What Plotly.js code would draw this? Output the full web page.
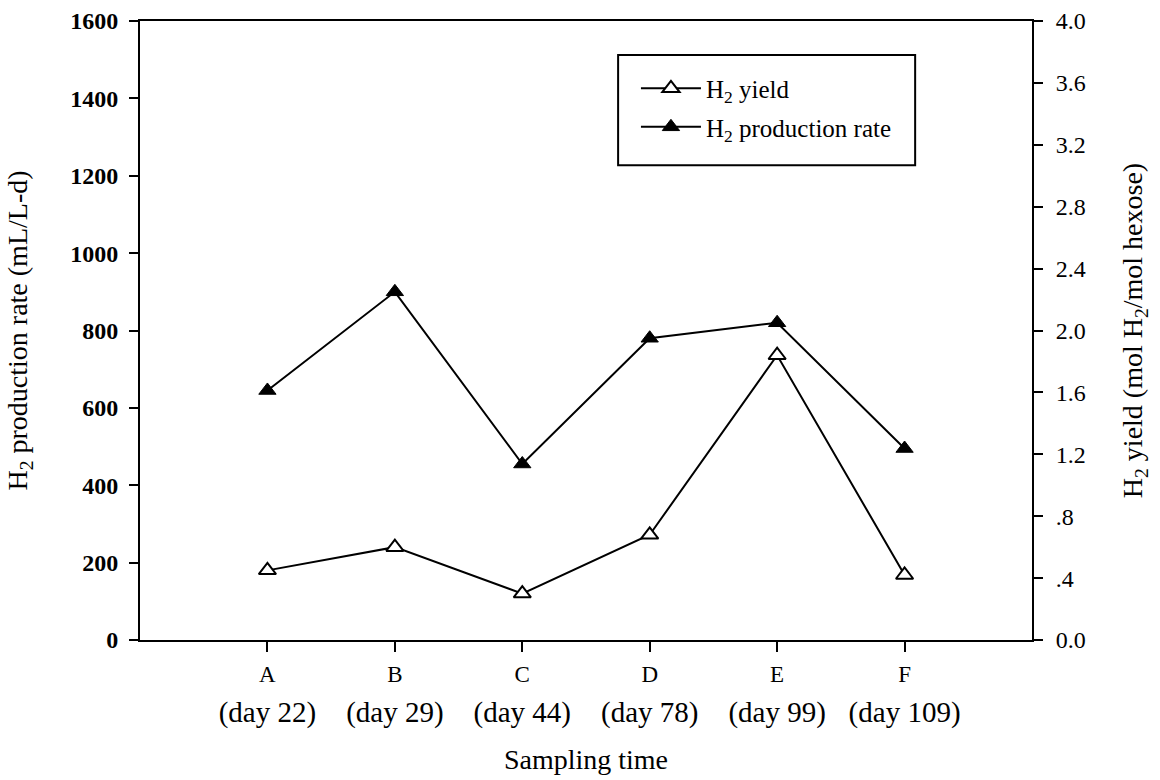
<!DOCTYPE html>
<html>
<head>
<meta charset="utf-8">
<script src="https://cdn.plot.ly/plotly-3.0.1.min.js"></script>
<style>html,body{margin:0;padding:0;background:#fff;}#chart{width:1160px;height:780px;}</style>
</head>
<body>
<div id="chart"></div>
<script>
// ---- data ----
const sampleLetters = ['A', 'B', 'C', 'D', 'E', 'F'];
const sampleDays = ['(day 22)', '(day 29)', '(day 44)', '(day 78)', '(day 99)', '(day 109)'];
const productionRate = [645, 900, 455, 780, 820, 495];   // mL/L-d, left axis
const h2Yield = [0.45, 0.60, 0.30, 0.68, 1.84, 0.42];     // mol H2/mol hexose, right axis
const rightTickVals = [0, 0.4, 0.8, 1.2, 1.6, 2.0, 2.4, 2.8, 3.2, 3.6, 4.0];
const rightTickText = ['0.0', '.4', '.8', '1.2', '1.6', '2.0', '2.4', '2.8', '3.2', '3.6', '4.0'];

const FONT = 'Liberation Serif, Times New Roman, serif';

const traces = [
  {
    x: sampleDays, y: h2Yield, xaxis: 'x2', yaxis: 'y2',
    type: 'scatter', mode: 'lines+markers',
    name: 'H<sub>2</sub> yield', legendgroup: 'g1',
    line: {color: '#000', width: 2},
    marker: {symbol: 'triangle-up', size: 15, color: '#fff', line: {color: '#000', width: 2}}
  },
  {
    x: sampleLetters, y: productionRate, xaxis: 'x', yaxis: 'y',
    type: 'scatter', mode: 'lines+markers',
    name: 'H<sub>2</sub> production rate', legendgroup: 'g2',
    line: {color: '#000', width: 2},
    marker: {symbol: 'triangle-up', size: 15, color: '#000', line: {color: '#000', width: 1}}
  }
];

const layout = {
  width: 1160, height: 780,
  paper_bgcolor: '#fff', plot_bgcolor: '#fff',
  margin: {l: 140, r: 128, t: 21, b: 140},
  font: {family: FONT, color: '#000'},
  showlegend: true,
  legend: {
    x: 0.556, y: 0.928, xanchor: 'left', yanchor: 'top',
    bgcolor: 'rgba(0,0,0,0)', borderwidth: 0,
    font: {family: FONT, size: 25, color: '#000'},
    tracegroupgap: 3, traceorder: 'grouped', itemwidth: 60
  },
  xaxis: {
    type: 'category', range: [-1, 6],
    showline: true, linecolor: '#000', linewidth: 2, mirror: true,
    ticks: 'outside', ticklen: 10, tickwidth: 2, tickcolor: '#000',
    tickfont: {family: FONT, size: 23, color: '#000'},
    ticklabelstandoff: 2,
    showgrid: false, zeroline: false, automargin: false,
    title: {text: 'Sampling time', font: {family: FONT, size: 28, color: '#000'}, standoff: 64}
  },
  xaxis2: {
    type: 'category', range: [-1, 6],
    overlaying: 'x', anchor: 'y', side: 'bottom',
    showline: false, ticks: '', showgrid: false, zeroline: false,
    tickfont: {family: FONT, size: 29, color: '#000'},
    ticklabelstandoff: 52, automargin: false
  },
  yaxis: {
    range: [0, 1600], dtick: 200,
    showline: true, linecolor: '#000', linewidth: 2, mirror: true,
    ticks: 'outside', ticklen: 9, tickwidth: 2, tickcolor: '#000',
    tickfont: {family: FONT, size: 24, color: '#000', weight: 'bold'},
    ticklabelstandoff: 6,
    showgrid: false, zeroline: false, automargin: false,
    title: {text: 'H<sub>2</sub> production rate (mL/L-d)', font: {family: FONT, size: 28, color: '#000'}, standoff: 34}
  },
  yaxis2: {
    range: [0, 4], overlaying: 'y', side: 'right', anchor: 'x',
    tickvals: rightTickVals, ticktext: rightTickText,
    showline: true, linecolor: '#000', linewidth: 2,
    ticks: 'outside', ticklen: 9, tickwidth: 2, tickcolor: '#000',
    tickfont: {family: FONT, size: 24, color: '#000'},
    ticklabelstandoff: 8,
    showgrid: false, zeroline: false, automargin: false,
    title: {text: 'H<sub>2</sub> yield (mol H<sub>2</sub>/mol hexose)', font: {family: FONT, size: 28, color: '#000'}, standoff: 38}
  },
  shapes: [
    {type: 'rect', xref: 'paper', yref: 'paper', x0: 0.536, x1: 0.869, y0: 0.767, y1: 0.945,
     line: {color: '#000', width: 2}, fillcolor: 'rgba(0,0,0,0)'}
  ]
};

Plotly.newPlot('chart', traces, layout, {displayModeBar: false, staticPlot: true});
</script>
</body>
</html>
